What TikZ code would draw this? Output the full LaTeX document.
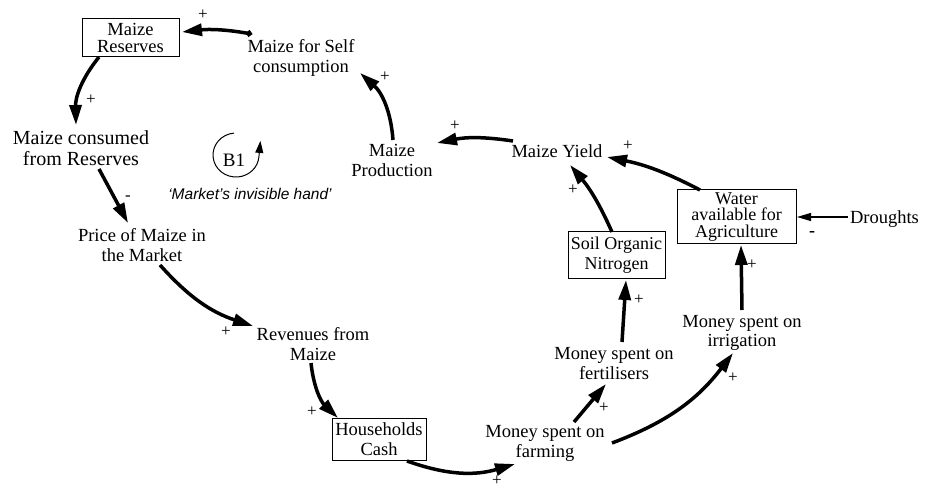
\documentclass[tikz,border=0pt]{standalone}
\usepackage{fontspec}
\setmainfont{Liberation Serif}
\newfontfamily\handfont{Liberation Sans}
\usetikzlibrary{arrows.meta}
\begin{document}
\begin{tikzpicture}[x=1pt,y=-1pt,
  var/.style={align=center, inner sep=0pt, font=\fontsize{18.5}{20}\selectfont},
  stock/.style={draw, line width=1pt, inner sep=0pt, align=center},
  link/.style={line width=3.5pt, -{Triangle[length=20pt,width=12pt]}},
  thinlink/.style={line width=1.1pt, -{Triangle[length=14pt,width=8pt]}},
  sign/.style={inner sep=0pt, font=\fontsize{17}{17}\selectfont},
]
\useasboundingbox (0,0) rectangle (930,489);

% stocks (boxed) and auxiliary variables
\node[stock, minimum width=97pt, minimum height=38pt, font=\fontsize{18.5}{17}\selectfont] (reserves) at (130.5,38) {Maize\\Reserves};
\node[var] (selfc) at (301,57.5) {Maize for Self\\consumption};
\node[var, font=\fontsize{20}{21}\selectfont] (consumed) at (81,148) {Maize consumed\\from Reserves};
\node[var] (price) at (142,245.5) {Price of Maize in\\the Market};
\node[var] (revenues) at (313,344.5) {Revenues from\\Maize};
\node[stock, minimum width=94pt, minimum height=42pt, font=\fontsize{18.5}{20}\selectfont] (households) at (379,439) {Households\\Cash};
\node[var] (farming) at (545,443.5) {Money spent on\\farming};
\node[var] (fertilisers) at (614,363.5) {Money spent on\\fertilisers};
\node[var, font=\fontsize{18.5}{19}\selectfont] (irrigation) at (742,333) {Money spent on\\irrigation};
\node[stock, minimum width=97pt, minimum height=47pt, font=\fontsize{18}{20}\selectfont] (soil) at (616.5,255.5) {Soil Organic\\Nitrogen};
\node[stock, minimum width=119pt, minimum height=54pt, font=\fontsize{18}{16.5}\selectfont] (water) at (736.5,217) {Water\\available for\\Agriculture};
\node[var] (droughts) at (884.5,219) {Droughts};
\node[var] (yield) at (557,151.5) {Maize Yield};
\node[var] (production) at (392,160.5) {Maize\\Production};

% balancing loop marker
\node[var, font=\fontsize{19}{20}\selectfont] (b1) at (234,160) {B1};
\draw[line width=1pt, -{Triangle[length=12pt,width=8pt]}]
  ([shift={(0,-26.9)}]b1.center) arc[start angle=-95, end angle=-355, x radius=23, y radius=22] -- ++(1.5,-16);
\node[inner sep=0pt, font=\handfont\itshape\fontsize{15.5}{16}\selectfont] (hand) at (250,194) {‘Market’s invisible hand’};

% causal links
\draw[link, {Circle[length=6pt]}-{Triangle[length=20pt,width=12pt]}]
  ([shift={(-49,-23.5)}]selfc.center) to[bend right=8] ([shift={(51.5,-6)}]reserves.center);
\draw[link] ([shift={(-31.5,19)}]reserves.center) to[bend right=20] ([shift={(-5,-23)}]consumed.center);
\draw[link] ([shift={(18,21)}]consumed.center) -- ([shift={(-14,-22.5)}]price.center);
\draw[link] ([shift={(18,19.5)}]price.center) to[bend right=15] ([shift={(-60,-18.5)}]revenues.center);
\draw[link] ([shift={(-2,18.5)}]revenues.center) to[bend right=20] ([shift={(-41,-21)}]households.center);
\draw[link] ([shift={(28,22)}]households.center) to[bend right=18] ([shift={(-30,20.5)}]farming.center);
\draw[link] ([shift={(29,-21.5)}]farming.center) -- ([shift={(-8,20.5)}]fertilisers.center);
\draw[link] ([shift={(67,-0.5)}]farming.center) to[bend right=16] ([shift={(-9,20)}]irrigation.center);
\draw[link] ([shift={(8,-21.5)}]fertilisers.center) -- ([shift={(9.5,24.5)}]soil.center);
\draw[link] ([shift={(0,-23)}]irrigation.center) -- ([shift={(4.5,28)}]water.center);
\draw[thinlink] ([shift={(-36.5,-2)}]droughts.center) -- ([shift={(60.5,0)}]water.center);
\draw[link] ([shift={(-4.5,-23.5)}]soil.center) to[bend right=8] ([shift={(13,13.5)}]yield.center);
\draw[link] ([shift={(-36.5,-27)}]water.center) to[bend right=8] ([shift={(50,5.5)}]yield.center);
\draw[link] ([shift={(-44,-10.5)}]yield.center) to[bend right=10] ([shift={(45,-17.5)}]production.center);
\draw[link] ([shift={(1,-20.5)}]production.center) to[bend right=22] ([shift={(59,15.5)}]selfc.center);

% link polarities
\node[sign] (s1) at (203,15) {+};
\node[sign] (s2) at (91,100) {+};
\node[sign] (s3) at (128,198) {-};
\node[sign] (s4) at (226,332) {+};
\node[sign] (s5) at (312,412) {+};
\node[sign] (s6) at (497,481) {+};
\node[sign] (s7) at (604,408) {+};
\node[sign] (s8) at (733,378) {+};
\node[sign] (s9) at (639,300) {+};
\node[sign] (s10) at (752,265) {+};
\node[sign, font=\fontsize{18}{18}\selectfont\bfseries] (s11) at (812,234) {-};
\node[sign] (s12) at (573,190) {+};
\node[sign] (s13) at (628,146) {+};
\node[sign] (s14) at (455,126) {+};
\node[sign] (s15) at (385,77) {+};
\end{tikzpicture}
\end{document}
